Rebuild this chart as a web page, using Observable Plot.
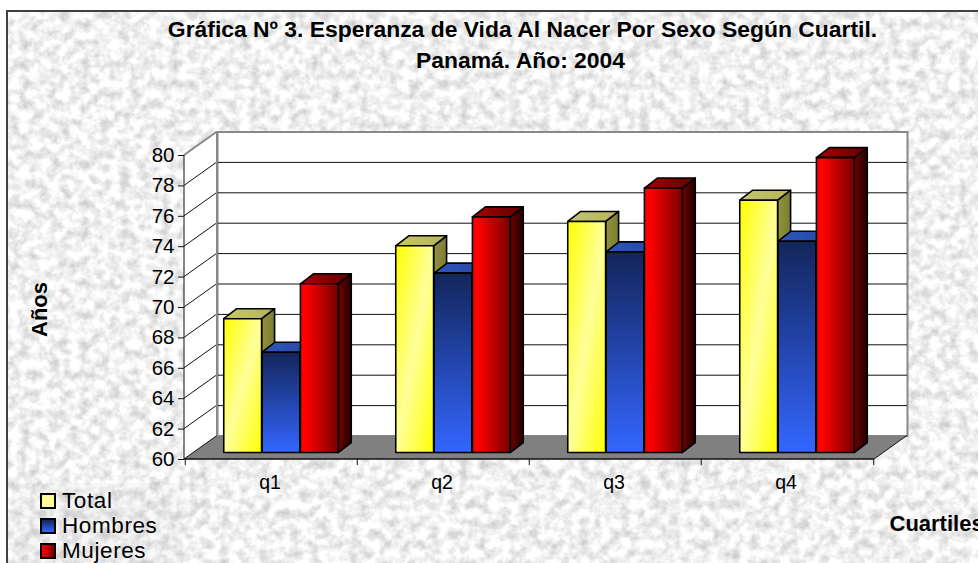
<!DOCTYPE html>
<html>
<head>
<meta charset="utf-8">
<script src="https://cdn.jsdelivr.net/npm/d3@7"></script>
<script src="https://cdn.jsdelivr.net/npm/@observablehq/plot@0.6"></script>
<style>
  html, body { margin: 0; padding: 0; background: #fff; }
  #wrap { position: relative; width: 978px; height: 563px; overflow: hidden; font-family: "Liberation Sans", Arial, sans-serif; }
  #legend { position: absolute; left: 12px; top: 483px; width: 171px; height: 80px; background: rgba(120,120,120,0.05); }
  .item { position: absolute; left: 28px; height: 25px; display: flex; align-items: center; font-size: 22.5px; letter-spacing: 0.6px; color: #000; line-height: 25px; }
  .sw { display: inline-block; width: 12px; height: 12px; border: 2px solid #000; margin-right: 6px; }
</style>
</head>
<body>
<div id="wrap"></div>
<script>
const cuartiles = ["q1", "q2", "q3", "q4"];
const total   = [68.8, 73.6, 75.2, 76.6];
const hombres = [66.6, 71.8, 73.2, 73.9];
const mujeres = [71.1, 75.5, 77.4, 79.4];
const yTicks = [60, 62, 64, 66, 68, 70, 72, 74, 76, 78, 80];
const tituloLineas = ["Gráfica Nº 3. Esperanza de Vida Al Nacer Por Sexo Según Cuartil.", "Panamá. Año: 2004"];

const W = 978, H = 563, mL = 184, mR = 104, mT = 155, mB = 104;
const wallDx = 33, wallDy = -23.5;      // chart depth
const barDx = 10, barDy = -6.5;         // bars stand inside the floor
const prismDx = 13, prismDy = -10;      // bar depth
const bandW = (W - mL - mR) / cuartiles.length;
const barW = bandW * 2 / 9;

const svgNS = "http://www.w3.org/2000/svg";
function defs() {
  const grad = (id, x2, y2, stops) => `<linearGradient id="${id}" x1="0" y1="0" x2="${x2}" y2="${y2}">` +
    stops.map(([o, c]) => `<stop offset="${o}" stop-color="${c}"/>`).join("") + `</linearGradient>`;
  const g = document.createElementNS(svgNS, "g");
  g.innerHTML = `<defs>
    <filter id="stone" x="0" y="0" width="100%" height="100%" color-interpolation-filters="sRGB">
      <feTurbulence type="fractalNoise" baseFrequency="0.1" numOctaves="4" seed="11"/>
      <feColorMatrix values="0.38 0 0 0 0.755  0.38 0 0 0 0.755  0.38 0 0 0 0.755  0 0 0 0 1"/>
    </filter>
    ${grad("tF", 1, 1, [[0, "#ffff00"], [.5, "#ffff99"], [1, "#ffff00"]])}
    ${grad("tS", 1, 0, [[0, "#92923f"], [1, "#7c7c30"]])}
    ${grad("tT", 1, 0, [[0, "#c6c66c"], [1, "#b4b45a"]])}
    ${grad("hF", 0, 1, [[0, "#13255a"], [1, "#3366ff"]])}
    ${grad("hS", 0, 1, [[0, "#0c1a40"], [1, "#1c3a90"]])}
    ${grad("hT", 1, 0, [[0, "#2f56bd"], [1, "#2448a4"]])}
    ${grad("mF", 1, 0, [[0, "#ff0000"], [.15, "#ff0000"], [1, "#770000"]])}
    ${grad("mS", 1, 0, [[0, "#700000"], [1, "#200000"]])}
    ${grad("mT", 1, 0, [[0, "#a80000"], [1, "#600000"]])}
  </defs>
  <rect x="7" y="11" width="${W}" height="${H}" filter="url(#stone)"/>
  <path d="M7 ${H}V11H${W}" fill="none" stroke="#404040" stroke-width="2"/>`;
  return g;
}

// Left wall, floor and the wall's slanted grid lines, from the y scale.
function walls(index, { y }, values, dims) {
  const L = dims.marginLeft, R = dims.width - dims.marginRight;
  const y0 = y(60), y1 = y(80);
  const g = d3.create("svg:g");
  g.append("path").attr("fill", "#fff").attr("stroke", "none")
    .attr("d", `M${L} ${y0}V${y1}l${wallDx} ${wallDy}V${y0 + wallDy}Z`);
  g.append("path").attr("fill", "#808080").attr("stroke", "none")
    .attr("d", `M${L} ${y0}H${R}l${wallDx} ${wallDy}H${L + wallDx}Z`);
  for (const t of yTicks) {
    g.append("line").attr("x1", L).attr("x2", L + wallDx).attr("y1", y(t)).attr("y2", y(t) + wallDy)
      .attr("stroke", t === 80 ? "#888" : "#111").attr("stroke-width", t === 80 ? 2 : 1);
  }
  g.append("line").attr("x1", L + wallDx).attr("x2", L + wallDx).attr("y1", y1 + wallDy).attr("y2", y0 + wallDy)
    .attr("stroke", "#888").attr("stroke-width", 2);
  g.append("line").attr("x1", R).attr("x2", R + wallDx).attr("y1", y0).attr("y2", y0 + wallDy).attr("stroke", "#111");
  g.append("line").attr("x1", L).attr("x2", L).attr("y1", y0).attr("y2", y1).attr("stroke", "#111");
  g.append("line").attr("x1", L).attr("x2", R).attr("y1", y0).attr("y2", y0).attr("stroke", "#111").attr("stroke-width", 1.5);
  return g.node();
}

// Turns a bar's rect into the prism face that hangs off it.
const prismFace = (shape) => (I, s, v, d, c, next) => {
  const node = next(I, s, v, d, c);
  for (const r of Array.from(node.querySelectorAll("rect"))) {
    const x = +r.getAttribute("x"), y = +r.getAttribute("y"), w = +r.getAttribute("width"), h = +r.getAttribute("height");
    const p = document.createElementNS(svgNS, "path");
    p.setAttribute("d", shape === "top"
      ? `M${x} ${y}l${prismDx} ${prismDy}h${w}l${-prismDx} ${-prismDy}Z`
      : `M${x + w} ${y}l${prismDx} ${prismDy}v${h}l${-prismDx} ${-prismDy}Z`);
    if (r.getAttribute("transform")) p.setAttribute("transform", r.getAttribute("transform"));
    r.replaceWith(p);
  }
  return node;
};

function serie(valores, i, k) {
  const data = cuartiles.map((q, j) => ({ q, v: valores[j] }));
  const base = {
    x: "q", y1: () => 60, y2: "v", dx: barDx, dy: barDy,
    insetLeft: bandW / 6 + i * barW, insetRight: bandW / 6 + (2 - i) * barW,
    stroke: "#000", strokeWidth: 1.6, strokeLinejoin: "round"
  };
  return [
    Plot.barY(data, { ...base, fill: `url(#${k}S)`, render: prismFace("side") }),
    Plot.barY(data, { ...base, fill: `url(#${k}T)`, render: prismFace("top") }),
    Plot.barY(data, { ...base, fill: `url(#${k}F)` })
  ];
}

const chart = Plot.plot({
  width: W, height: H,
  marginLeft: mL, marginRight: mR, marginTop: mT, marginBottom: mB,
  style: { fontFamily: '"Liberation Sans", Arial, sans-serif', color: "#000", background: "none", overflow: "hidden" },
  x: { type: "band", domain: cuartiles, padding: 0, label: null },
  y: { domain: [60, 80], label: null },
  marks: [
    defs,
    Plot.frame({ fill: "#fff", stroke: "#888", strokeWidth: 2, dx: wallDx, dy: wallDy }),
    Plot.ruleY(yTicks.slice(1, -1), { stroke: "#111", strokeWidth: 1, dx: wallDx, dy: wallDy }),
    walls,
    Plot.axisY(yTicks, { anchor: "left", tickSize: 6, tickPadding: 4, fontSize: 20.5, label: null, stroke: "#111" }),
    Plot.axisX({ anchor: "bottom", tickSize: 0, tickPadding: 16, fontSize: 19.5, label: null, dx: -1.5 }),
    Plot.ruleX(cuartiles, { x: d => d, y1: () => 60, y2: () => 59.6, dx: -bandW / 2, stroke: "#111" }),
    Plot.ruleX(cuartiles.slice(-1), { x: d => d, y1: () => 60, y2: () => 59.6, dx: bandW / 2, stroke: "#111" }),
    ...serie(total, 0, "t"),
    ...serie(hombres, 1, "h"),
    ...serie(mujeres, 2, "m"),
    Plot.text([tituloLineas[0]], { text: d => d, frameAnchor: "top", dx: -7, dy: -135, fontSize: 22.9, fontWeight: "bold" }),
    Plot.text([tituloLineas[1]], { text: d => d, frameAnchor: "top", dx: -9, dy: -104, fontSize: 22.9, fontWeight: "bold" }),
    Plot.text(["Años"], { text: d => d, frameAnchor: "left", textAnchor: "middle", rotate: -90, dx: -145, dy: 2, fontSize: 22, fontWeight: "bold" }),
    Plot.text(["Cuartiles"], { text: d => d, frameAnchor: "bottom-right", textAnchor: "start", dx: 15, dy: 71, fontSize: 22, fontWeight: "bold" })
  ]
});
document.getElementById("wrap").appendChild(chart);

// Legend
const legendEntries = [
  ["Total", "#ffff99", 5],
  ["Hombres", "linear-gradient(#13255a,#3366ff)", 30],
  ["Mujeres", "linear-gradient(90deg,#ff0000,#770000)", 55]
];
const legend = document.createElement("div");
legend.id = "legend";
for (const [name, bg, top] of legendEntries) {
  const item = document.createElement("div");
  item.className = "item";
  item.style.top = top + "px";
  item.innerHTML = `<span class="sw" style="background:${bg}"></span><span>${name}</span>`;
  legend.appendChild(item);
}
document.getElementById("wrap").appendChild(legend);
</script>
</body>
</html>
